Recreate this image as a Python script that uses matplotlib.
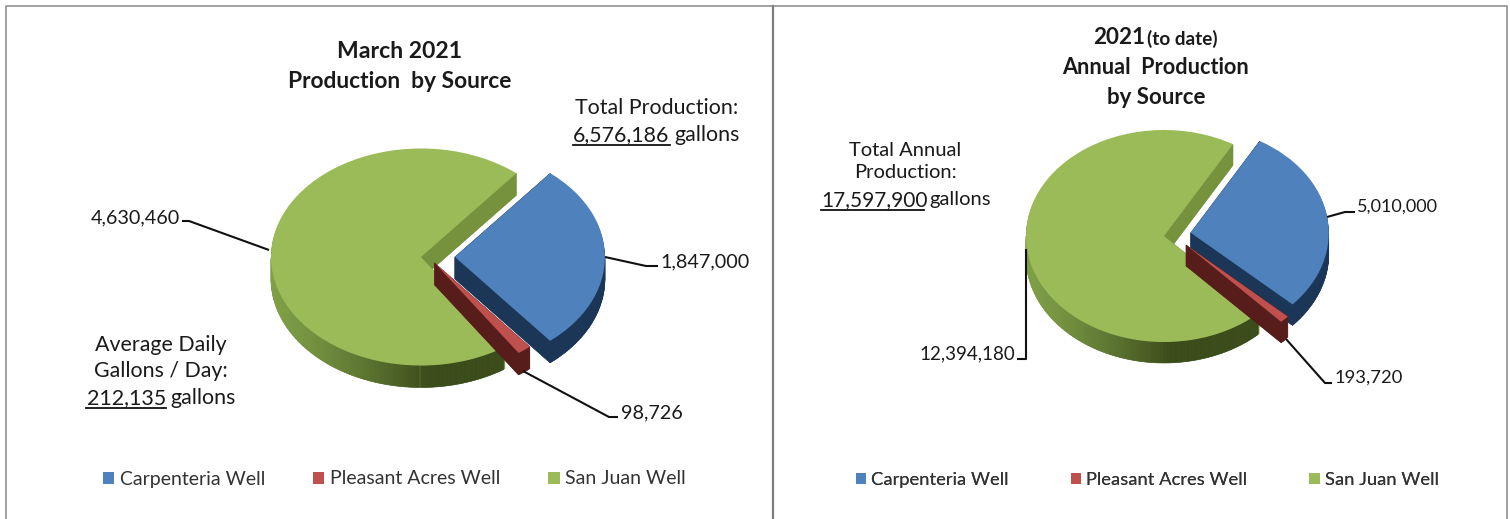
import numpy as np
import matplotlib
matplotlib.use("Agg")
import matplotlib.pyplot as plt
from matplotlib.patches import Polygon

W, H = 1510, 519
FONT = "Lato"
plt.rcParams["font.family"] = [FONT, "DejaVu Sans"]

sources = ["Carpenteria Well", "Pleasant Acres Well", "San Juan Well"]
march_values = [1847000, 98726, 4630460]
annual_values = [5010000, 193720, 12394180]

TOP = ["#4f81bd", "#c0504d", "#9bbb59"]
SIDE = ["#1b3657", "#561d1b", "#76923c"]
RIM_LIGHT = np.array([0x80, 0xa0, 0x48]) / 255
RIM_DARK = np.array([0x3b, 0x4c, 0x1b]) / 255
DRAW_ORDER = {0: 1, 1: 2, 2: 0}

fig = plt.figure(figsize=(W / 100, H / 100), dpi=100, facecolor="white")
ov = fig.add_axes([0, 0, 1, 1], zorder=5)
ov.set_xlim(0, W)
ov.set_ylim(H, 0)
ov.axis("off")


def pie3d(values, center, rx, ry, depth, start, offsets):
    cx, cy = center
    ax = fig.add_axes([0, 0, 1, 1], zorder=2)
    layers = int(depth)
    step = depth / ry / layers
    d = depth / ry
    wedges = None
    for k in range(layers + 1):
        is_top = k == layers
        ws, _ = ax.pie(values, startangle=start, counterclock=False,
                       colors=TOP if is_top else SIDE,
                       wedgeprops={"linewidth": 0})
        dy = -(layers - k) * step
        for i, w in enumerate(ws):
            w.set_center((offsets[i][0], offsets[i][1] + dy))
            w.set_zorder(DRAW_ORDER[i] * 100 + k)
        if is_top:
            wedges = ws
    for i, w in enumerate(wedges):
        ox, oy = offsets[i]
        z = DRAW_ORDER[i] * 100 + layers - 0.5
        # solid cut faces along the two straight edges
        for a in (w.theta1, w.theta2):
            tx = np.cos(np.radians(a)) + ox
            ty = np.sin(np.radians(a)) + oy
            ax.add_patch(Polygon([(ox, oy), (tx, ty), (tx, ty - d), (ox, oy - d)],
                                 closed=True, facecolor=SIDE[i],
                                 edgecolor=SIDE[i], linewidth=0.4, zorder=z - 0.2))
        # shaded outer rim, front part only
        angles = np.arange(w.theta1, w.theta2 + 1e-6, 1.0)
        for a0, a1 in zip(angles[:-1], angles[1:]):
            if np.sin(np.radians((a0 + a1) / 2)) >= 0:
                continue
            if i == 2:
                c = np.cos(np.radians((a0 + a1) / 2))
                t = np.clip((c + 1.0) / 1.05, 0, 1) ** 1.3
                col = RIM_LIGHT * (1 - t) + RIM_DARK * t
            else:
                col = SIDE[i]
            xs = np.cos(np.radians([a0, a1])) + ox
            ys = np.sin(np.radians([a0, a1])) + oy
            ax.add_patch(Polygon([(xs[0], ys[0]), (xs[1], ys[1]),
                                  (xs[1], ys[1] - d), (xs[0], ys[0] - d)],
                                 closed=True, facecolor=col, edgecolor=col,
                                 linewidth=0.4, zorder=z))
    ax.set_aspect("auto")
    ax.set_xlim(-cx / rx, (W - cx) / rx)
    ax.set_ylim((cy - H) / ry, cy / ry)
    ax.axis("off")
    ax.patch.set_alpha(0)
    return wedges


def text(x, y, s, size=15.4, weight="normal", ha="center"):
    ov.text(x, y + 1, s, fontsize=size, fontweight=weight, ha=ha, va="center",
            color="#1a1a1a")


def leader(points):
    xs, ys = zip(*points)
    ov.plot(xs, ys, color="#111111", lw=1.5, solid_capstyle="butt")


def underline(x0, x1, y):
    ov.plot([x0, x1], [y, y], color="#111111", lw=1.3)


def legend(wedges, anchor, size, spacing):
    ov.add_artist(ov.legend(
        wedges, sources, ncol=3, loc="center left", frameon=False,
        bbox_to_anchor=anchor, bbox_transform=ov.transData,
        fontsize=size, handlelength=0.58, handleheight=0.58,
        handletextpad=0.28, columnspacing=spacing, borderpad=0,
        borderaxespad=0, labelcolor="#333333"))


# panel frames
for x0, x1 in [(6, 773), (773, 1507)]:
    ov.plot([x0, x0, x1, x1], [H, 6, 6, H], color="#9a9a9a", lw=1.3)
ov.plot([773, 773], [6, H], color="#7f7f7f", lw=1.6)

# ---- left panel
w1 = pie3d(march_values, (421, 257), 150, 108.5, 22, 50.5,
           [(0.226, 0.0), (0.091, -0.055), (0, 0)])
text(399.5, 51, "March 2021", 16.6, "bold")
text(399.5, 80, "Production  by Source", 16.4, "bold")
text(657, 107, "Total Production:")
text(573, 134, "6,576,186", ha="left")
text(674, 134, "gallons", ha="left")
underline(573, 670, 145)
text(161, 344, "Average Daily")
text(161, 370, "Gallons / Day:")
text(87, 397, "212,135", ha="left")
text(170, 397, "gallons", ha="left")
underline(86, 166, 408)

text(180, 217, f"{march_values[2]:,}", 14.2, ha="right")
leader([(182, 221), (189, 221), (269, 250)])
text(660, 261, f"{march_values[0]:,}", 14.2, ha="left")
leader([(605, 257), (646, 266), (658, 266)])
text(621, 412, f"{march_values[1]:,}", 14.2, ha="left")
leader([(523, 371), (609, 417), (618, 417)])
legend(w1, (103, 479), 14.0, 2.47)

# ---- right panel
w2 = pie3d(annual_values, (1164, 236), 138, 106, 21, 60,
           [(0.194, 0.03), (0.16, -0.085), (0, 0)])
text(1093, 37, "2021", 16.2, "bold", ha="left")
text(1147, 38, "(to date)", 13.6, "bold", ha="left")
text(1156, 66, "Annual  Production", 15.6, "bold")
text(1156, 97, "by Source", 16, "bold")
text(905, 149, "Total Annual", 14.5)
text(905, 172, "Production:", 14.5)
text(821, 199, "17,597,900", 15, ha="left")
text(929, 199, "gallons", 14.5, ha="left")
underline(821, 924, 210)

text(1357, 206, f"{annual_values[0]:,}", 13, ha="left")
leader([(1327, 217), (1345, 212), (1355, 212)])
text(1015, 353, f"{annual_values[2]:,}", 13.5, ha="right")
leader([(1026, 249), (1026, 359), (1017, 359)])
text(1335, 377, f"{annual_values[1]:,}", 13.2, ha="left")
leader([(1286, 339), (1325, 383), (1332, 383)])
legend(w2, (855.5, 480), 13.2, 3.38)

fig.savefig("out.png", dpi=100, facecolor="white")
